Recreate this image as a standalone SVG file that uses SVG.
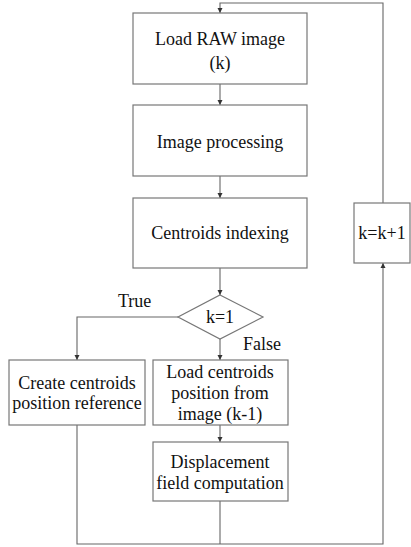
<svg xmlns="http://www.w3.org/2000/svg" width="411" height="547" viewBox="0 0 411 547">
<style>
.box{fill:#fff;stroke:#777;stroke-width:1.2}
.ln{fill:none;stroke:#666;stroke-width:1.1}
text{font-family:'Times New Roman','Liberation Serif',Tinos,'Nimbus Roman','Nimbus Roman No9 L',FreeSerif,'Noto Serif','DejaVu Serif',Times,serif;font-size:18px;fill:#111}
.t{text-anchor:middle}
</style>
<defs>
<marker id="ah" markerWidth="6" markerHeight="6" refX="5" refY="3" orient="auto" markerUnits="userSpaceOnUse">
<path d="M0,0.5 L5,3 L0,5.5 Z" fill="#333"/>
</marker>
</defs>
<rect width="411" height="547" fill="#fff"/>
<g id="connectors">
<polyline class="ln" points="383,203 383,3 220,3 220,13" marker-end="url(#ah)"/>
<line class="ln" x1="220" y1="84" x2="220" y2="105" marker-end="url(#ah)"/>
<line class="ln" x1="220" y1="176" x2="220" y2="198" marker-end="url(#ah)"/>
<line class="ln" x1="220" y1="268" x2="220" y2="295" marker-end="url(#ah)"/>
<polyline class="ln" points="178,317 77,317 77,360" marker-end="url(#ah)"/>
<line class="ln" x1="220" y1="339" x2="220" y2="360" marker-end="url(#ah)"/>
<line class="ln" x1="220" y1="425" x2="220" y2="442" marker-end="url(#ah)"/>
<polyline class="ln" points="77,425 77,544 383,544 383,263" marker-end="url(#ah)"/>
<line class="ln" x1="220" y1="501" x2="220" y2="544"/>
<text x="118" y="307">True</text>
<text x="243" y="350">False</text>
</g>
<g id="load-raw">
<rect class="box" x="133" y="13" width="174" height="71"/>
<text class="t" x="220" y="45">Load RAW image</text>
<text class="t" x="220" y="69">(k)</text>
</g>
<g id="image-processing">
<rect class="box" x="133" y="105" width="174" height="71"/>
<text class="t" x="220" y="148">Image processing</text>
</g>
<g id="centroids-indexing">
<rect class="box" x="133" y="198" width="174" height="70"/>
<text class="t" x="220" y="239">Centroids indexing</text>
</g>
<g id="decision">
<polygon class="box" points="220,295 263,317 220,339 178,317"/>
<text class="t" x="220" y="323">k=1</text>
</g>
<g id="create-reference">
<rect class="box" x="9" y="360" width="136" height="65"/>
<text class="t" x="77" y="389">Create centroids</text>
<text class="t" x="77" y="409">position reference</text>
</g>
<g id="load-centroids">
<rect class="box" x="153" y="360" width="135" height="65"/>
<text class="t" x="220" y="378">Load centroids</text>
<text class="t" x="220" y="399">position from</text>
<text class="t" x="220" y="420">image (k-1)</text>
</g>
<g id="displacement">
<rect class="box" x="153" y="442" width="135" height="59"/>
<text class="t" x="220" y="468">Displacement</text>
<text class="t" x="220" y="489">field computation</text>
</g>
<g id="increment">
<rect class="box" x="354" y="203" width="56" height="60"/>
<text class="t" x="382" y="239">k=k+1</text>
</g>
</svg>
